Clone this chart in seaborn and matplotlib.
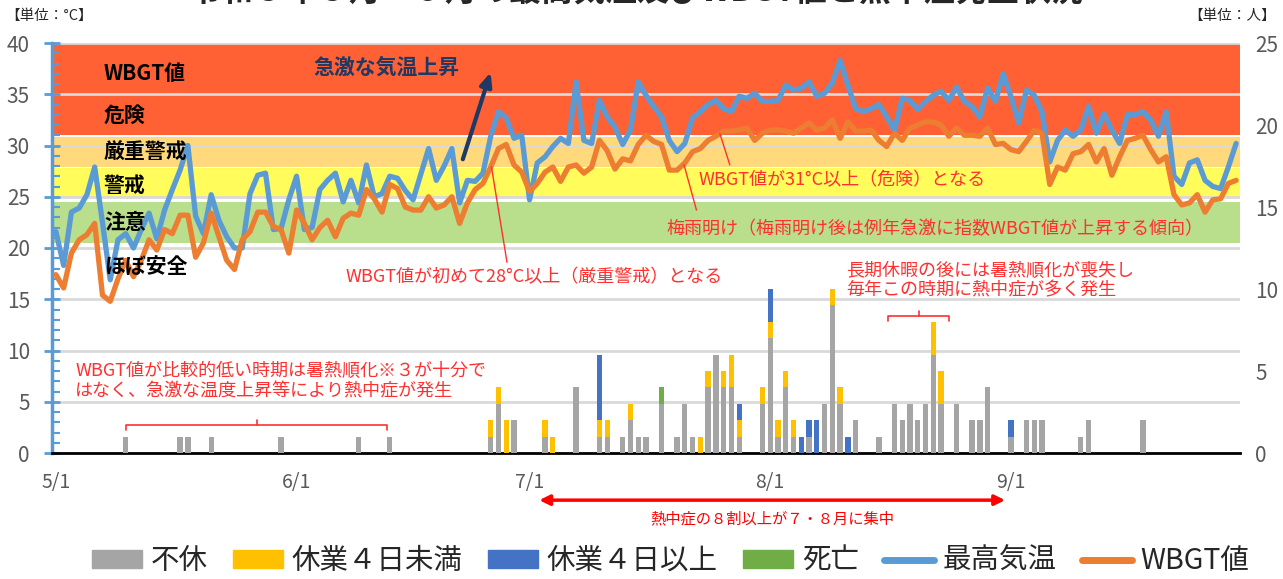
import matplotlib
matplotlib.use("Agg")
import matplotlib.pyplot as plt
import numpy as np
import pandas as pd
import seaborn as sns
from matplotlib.lines import Line2D
from matplotlib.patches import Patch

# x axis: one point per day from 5/1 to 9/30
month_ticks = [0, 31, 61, 92, 123]
month_labels = ["5/1", "6/1", "7/1", "8/1", "9/1"]

# daily max temperature (°C)
max_temp = [
    21.6, 18.3, 23.5, 23.9, 25.2, 27.9, 22.5, 16.9, 20.8, 21.4,
    20.0, 21.8, 23.4, 20.9, 23.7, 25.7, 27.6, 30.0, 23.1, 21.4,
    25.2, 22.7, 21.1, 20.0, 20.0, 25.3, 27.1, 27.3, 21.8, 21.9,
    24.7, 27.0, 21.8, 22.0, 25.7, 26.6, 27.3, 24.5, 26.6, 24.4,
    28.1, 25.0, 25.3, 27.0, 26.8, 25.6, 24.7, 27.2, 29.7, 26.6,
    28.0, 29.7, 24.4, 26.6, 26.5, 27.3, 30.9, 33.3, 32.7, 30.7,
    31.0, 24.7, 28.3, 28.9, 29.9, 30.7, 30.2, 36.2, 30.5, 30.2,
    34.4, 32.8, 31.8, 30.1, 31.5, 36.2, 34.9, 33.8, 32.8, 30.5,
    29.4, 30.2, 32.7, 33.3, 34.0, 34.4, 33.6, 33.3, 34.8, 34.6,
    35.1, 34.3, 34.3, 34.4, 35.9, 35.4, 35.6, 36.2, 34.8, 35.1,
    36.1, 38.3, 35.9, 33.6, 33.3, 33.6, 34.0, 32.8, 31.5, 34.6,
    34.4, 33.5, 34.3, 34.9, 35.3, 34.4, 35.7, 34.3, 33.8, 32.8,
    35.6, 34.3, 37.0, 34.8, 32.2, 35.4, 34.9, 33.3, 28.4, 30.5,
    31.5, 30.9, 31.5, 33.8, 31.2, 33.1, 31.5, 30.2, 33.0, 33.0,
    33.3, 32.5, 30.9, 33.3, 27.0, 26.2, 28.3, 28.6, 26.6, 26.0,
    25.8, 27.9, 30.2,
]

# daily WBGT (°C)
wbgt = [
    17.4, 16.1, 19.5, 20.8, 21.3, 22.4, 15.4, 14.8, 17.0, 18.8,
    17.2, 18.8, 20.8, 19.8, 21.8, 21.4, 23.2, 23.2, 19.1, 20.5,
    23.4, 21.1, 18.8, 17.9, 20.8, 21.6, 23.5, 23.5, 22.1, 21.8,
    19.5, 23.7, 22.4, 20.8, 22.0, 22.7, 21.1, 22.9, 23.4, 23.2,
    25.7, 24.8, 23.5, 26.2, 25.8, 24.0, 23.7, 23.7, 25.0, 23.9,
    24.2, 25.0, 22.4, 24.4, 25.7, 26.3, 27.9, 29.7, 30.1, 28.1,
    27.4, 25.5, 26.3, 27.4, 27.9, 26.5, 27.9, 28.1, 27.3, 27.9,
    30.5, 29.5, 27.7, 28.7, 28.5, 30.1, 31.0, 30.4, 30.1, 27.6,
    27.6, 28.3, 29.4, 29.7, 30.5, 30.9, 31.4, 31.4, 31.5, 31.7,
    30.5, 31.2, 31.5, 31.5, 31.4, 31.2, 31.7, 32.2, 31.5, 31.7,
    32.5, 30.7, 32.3, 31.4, 31.4, 31.5, 30.5, 29.9, 31.2, 30.5,
    31.7, 32.0, 32.3, 32.3, 32.0, 30.9, 31.7, 31.0, 31.0, 30.9,
    31.7, 30.1, 30.2, 29.6, 29.4, 30.4, 31.5, 31.2, 26.2, 27.9,
    27.6, 29.2, 29.4, 30.1, 28.4, 29.7, 27.1, 28.9, 30.5, 30.7,
    31.0, 29.6, 28.4, 28.9, 25.2, 24.2, 24.4, 25.2, 23.5, 24.7,
    24.8, 26.3, 26.6,
]

# heat stroke cases per day (day index: persons)
fukyu = {9: 1, 16: 1, 17: 1, 20: 1, 29: 1, 39: 1, 43: 1,
         56: 1, 57: 3, 59: 2, 63: 1, 67: 4, 70: 1, 71: 1, 73: 1, 74: 2,
         75: 1, 76: 1, 78: 3, 80: 1, 81: 3, 82: 1, 84: 4, 85: 6, 86: 4,
         87: 4, 88: 1, 91: 3, 92: 7, 93: 1, 94: 4, 95: 1, 97: 1, 99: 3,
         100: 9, 101: 3, 103: 2, 106: 1, 108: 3, 109: 2, 110: 3, 111: 2,
         112: 3, 113: 6, 114: 3, 116: 3, 118: 2, 119: 2, 120: 4, 123: 1,
         125: 2, 126: 2, 127: 2, 132: 1, 133: 2, 140: 2}
kyugyo_lt4 = {56: 1, 57: 1, 58: 2, 63: 1, 64: 1, 70: 1, 71: 1, 74: 1,
              83: 1, 84: 1, 86: 1, 87: 2, 88: 1, 91: 1, 92: 1, 93: 1,
              94: 1, 95: 1, 100: 1, 101: 1, 113: 2, 114: 2}
kyugyo_ge4 = {70: 4, 88: 1, 92: 2, 96: 1, 97: 1, 98: 2, 102: 1, 123: 1}
shibo = {78: 1}

case_labels = ["不休", "休業４日未満", "休業４日以上", "死亡"]
case_colors = ["#A5A5A5", "#FFC000", "#4472C4", "#70AD47"]

# WBGT risk bands (lower, upper, colour)
bands = [
    (31.0, 40.0, "#FF6135"),
    (27.95, 30.8, "#FFD97B"),
    (25.0, 27.8, "#FFFC5C"),
    (20.5, 24.5, "#B9DE8C"),
]
band_labels = [("WBGT値", 37.0), ("危険", 32.9), ("厳重警戒", 29.4),
               ("警戒", 26.1), ("注意", 22.5), ("ほぼ安全", 18.2)]

n_days = len(max_temp)
days = np.arange(n_days)
df = pd.DataFrame({"day": days, "max_temp": max_temp, "wbgt": wbgt})
for name, d in zip(case_labels, [fukyu, kyugyo_lt4, kyugyo_ge4, shibo]):
    df[name] = [d.get(i, 0) for i in days]

sns.set_style("white")
plt.rcParams["font.family"] = ["Noto Sans CJK JP", "DejaVu Sans"]

RED = "#FF3030"
NAVY = "#1F3864"
GREY_TXT = "#595959"

fig = plt.figure(figsize=(12.83, 5.79), dpi=100)
ax = fig.add_axes([52 / 1283, 1 - 453 / 579, 1188 / 1283, 410 / 579])
ax2 = ax.twinx()

# background bands
for lo, hi, col in bands:
    ax.axhspan(lo, hi, color=col, zorder=0.2, lw=0)

# lines
sns.lineplot(data=df, x="day", y="max_temp", ax=ax, color="#5B9BD5", lw=3.8,
             legend=False, zorder=3)
sns.lineplot(data=df, x="day", y="wbgt", ax=ax, color="#ED7D31", lw=3.8,
             legend=False, zorder=3)

# stacked bars, drawn from the total down
cum = np.zeros(n_days)
stacks = []
for name in case_labels:
    cum = cum + df[name].to_numpy()
    stacks.append(cum.copy())
for heights, col in reversed(list(zip(stacks, case_colors))):
    sns.barplot(x=days, y=heights, ax=ax2, color=col, saturation=1,
                width=0.68, native_scale=True, errorbar=None, lw=0)

ax.set_xlim(-0.5, n_days - 0.5)
ax2.set_xlim(-0.5, n_days - 0.5)
ax.set_ylim(0, 40)
ax2.set_ylim(0, 25)
ax.set_xlabel("")
ax.set_ylabel("")
ax2.set_xlabel("")
ax2.set_ylabel("")

ax.set_yticks(range(0, 41, 5))
ax.set_yticks(range(0, 41, 1), minor=True)
ax2.set_yticks(range(0, 26, 5))
ax.set_xticks(month_ticks)
ax.set_xticklabels(month_labels)
ax.yaxis.grid(True, color="#D9D9D9", lw=2)
ax.xaxis.grid(False)

ax.tick_params(axis="y", which="major", direction="inout", length=12,
               width=2, color="#5B9BD5", labelsize=15, labelcolor=GREY_TXT, pad=10)
ax.tick_params(axis="y", which="minor", direction="in", length=6,
               width=1.5, color="#5B9BD5", left=True)
ax.tick_params(axis="x", length=0, labelsize=14, labelcolor=GREY_TXT, pad=14)
ax2.tick_params(axis="y", length=0, labelsize=15, labelcolor=GREY_TXT, pad=11)

for s in ["top", "right"]:
    ax.spines[s].set_visible(False)
for s in ax2.spines.values():
    s.set_visible(False)
ax.spines["left"].set_color("#5B9BD5")
ax.spines["left"].set_linewidth(2.5)
ax.spines["bottom"].set_color("black")
ax.spines["bottom"].set_linewidth(2)

# band labels
for txt, y in band_labels:
    ax.text(6.2, y, txt, fontsize=15, fontweight="bold", color="black",
            ha="left", va="center", zorder=4)

# sharp rise note
ax.text(33.2, 37.6, "急激な気温上昇", fontsize=15, fontweight="bold",
        color=NAVY, ha="left", va="center", zorder=4)
ax.annotate("", xy=(56.1, 37.4), xytext=(52.3, 28.4),
            arrowprops=dict(arrowstyle="-|>,head_length=0.8,head_width=0.35",
                            color=NAVY, lw=3), zorder=4)

# red annotations
ax.text(37.3, 17.1, "WBGT値が初めて28°C以上（厳重警戒）となる", fontsize=13,
        color=RED, ha="left", va="center", zorder=4)
ax.plot([56.1, 58.1], [27.9, 18.6], color=RED, lw=1, zorder=4)
ax.text(82.8, 26.6, "WBGT値が31°C以上（危険）となる", fontsize=13,
        color=RED, ha="left", va="center", zorder=4)
ax.plot([85.5, 86.8], [31.2, 28.1], color=RED, lw=1, zorder=4)
ax.text(78.6, 21.8, "梅雨明け（梅雨明け後は例年急激に指数WBGT値が上昇する傾向）",
        fontsize=13, color=RED, ha="left", va="center", zorder=4)
ax.plot([80.9, 82.5], [28.1, 23.7], color=RED, lw=1, zorder=4)
ax.text(101.8, 16.8, "長期休暇の後には暑熱順化が喪失し\n毎年この時期に熱中症が多く発生",
        fontsize=13, color=RED, ha="left", va="center", linespacing=1.15, zorder=4)
ax.text(2.5, 7.0, "WBGT値が比較的低い時期は暑熱順化※３が十分で\nはなく、急激な温度上昇等により熱中症が発生",
        fontsize=13, color=RED, ha="left", va="center", linespacing=1.15, zorder=4)

# brackets
def bracket(x0, x1, y, drop, rise):
    xm = (x0 + x1) / 2
    ax.plot([x0, x0, x1, x1], [y - drop, y, y, y - drop], color=RED, lw=1.2, zorder=4)
    ax.plot([xm, xm], [y, y + rise], color=RED, lw=1.2, zorder=4)

bracket(9.0, 42.7, 2.73, 0.5, 0.45)
bracket(107.2, 115.0, 13.37, 0.5, 0.45)

# July-August concentration arrow below the axis
ax.annotate("", xy=(61.9, -0.115), xytext=(122.6, -0.115),
            xycoords=("data", "axes fraction"), textcoords=("data", "axes fraction"),
            arrowprops=dict(arrowstyle="<|-|>,head_length=0.6,head_width=0.3",
                            color="red", lw=2.5), annotation_clip=False)
ax.text(92.3, -0.161, "熱中症の８割以上が７・８月に集中", fontsize=11, color="red",
        ha="center", va="center", transform=ax.get_xaxis_transform(), clip_on=False)

# units and (cropped) title
fig.text(5 / 1283, 1 - 16 / 579, "【単位：°C】", fontsize=10.5, ha="left", va="center")
fig.text(1276 / 1283, 1 - 16 / 579, "【単位：人】", fontsize=10.5, ha="right", va="center")
fig.text(636 / 1283, 1 + 8 / 579, "令和５年５月～９月の最高気温及びWBGT値と熱中症発生状況",
         fontsize=23, fontweight="bold", ha="center", va="center")

# legend
handles = [Patch(color=c) for c in case_colors]
handles += [Line2D([], [], color="#5B9BD5", lw=5), Line2D([], [], color="#ED7D31", lw=5)]
labels = case_labels + ["最高気温", "WBGT値"]
fig.legend(handles, labels, loc="center", bbox_to_anchor=(0.523, 0.031),
           ncol=6, frameon=False, fontsize=20.5, handlelength=1.75, handleheight=0.6,
           handletextpad=0.3, columnspacing=0.9, borderpad=0, borderaxespad=0)

fig.savefig("out.png", dpi=100)
